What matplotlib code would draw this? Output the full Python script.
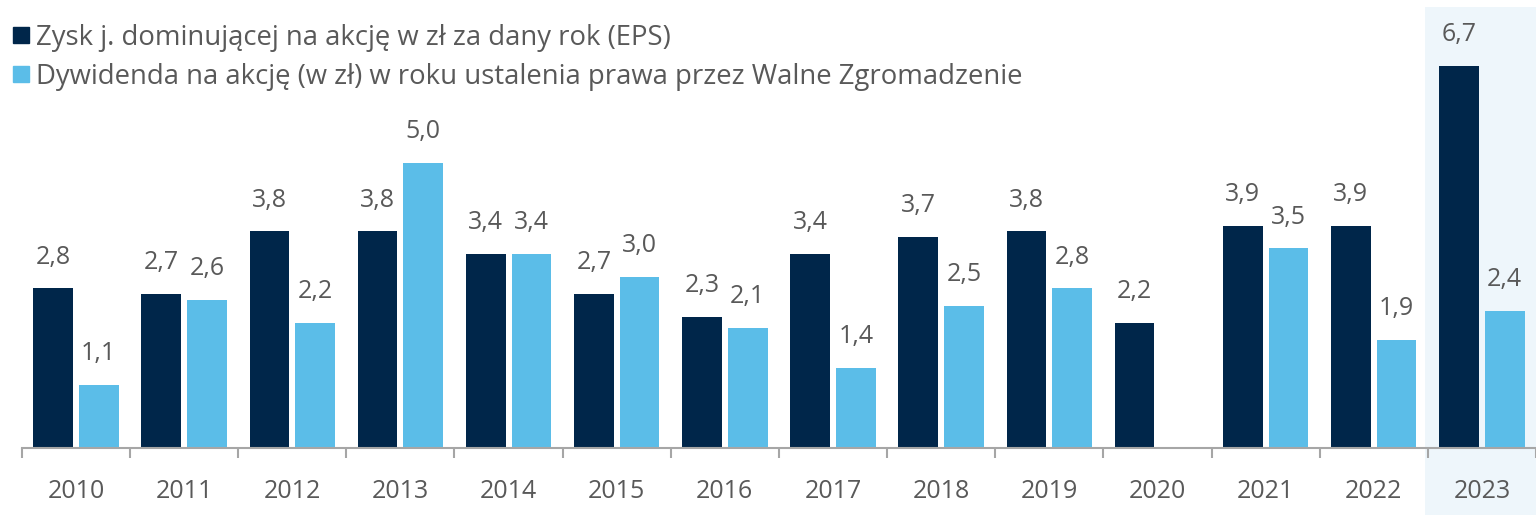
import matplotlib
matplotlib.use('Agg')
import matplotlib.pyplot as plt
import matplotlib.transforms as mtransforms
from matplotlib.patches import Rectangle
from matplotlib.lines import Line2D

plt.rcParams['font.family'] = ['Open Sans', 'DejaVu Sans']

years = ['2010', '2011', '2012', '2013', '2014', '2015', '2016',
         '2017', '2018', '2019', '2020', '2021', '2022', '2023']
eps = [2.8, 2.7, 3.8, 3.8, 3.4, 2.7, 2.3, 3.4, 3.7, 3.8, 2.2, 3.9, 3.9, 6.7]
dps = [1.1, 2.6, 2.2, 5.0, 3.4, 3.0, 2.1, 1.4, 2.5, 2.8, None, 3.5, 1.9, 2.4]

eps_label = 'Zysk j. dominującej na akcję w zł za dany rok (EPS)'
dps_label = 'Dywidenda na akcję (w zł) w roku ustalenia prawa przez Walne Zgromadzenie'

DARK = '#00264a'
LIGHT = '#5bbde8'
TEXT = '#595959'
SHADE = '#eef6fb'
AXIS = '#a6a6a6'

W, H = 1536, 515
fig = plt.figure(figsize=(W / 100, H / 100), dpi=100)
base_px = 448
ax = fig.add_axes([0, (H - base_px) / H, 1, base_px / H])
ax.set_zorder(1)
ax.set_xlim(-76.5 / 109, (W - 76.5) / 109)
ax.set_ylim(0, base_px / 57)

x = list(range(len(years)))
bw = 0.367
off = 0.211

# highlight the latest year, including the label strip below the axis
tr = mtransforms.blended_transform_factory(ax.transData, fig.transFigure)
fig.patches.append(Rectangle((12.47, 0), 2, 1 - 7 / H, transform=tr,
                             facecolor=SHADE, edgecolor='none', zorder=0))

ax.bar([i - off for i in x], eps, width=bw, color=DARK, zorder=2)
dx = [i + off for i, v in zip(x, dps) if v is not None]
dv = [v for v in dps if v is not None]
ax.bar(dx, dv, width=bw, color=LIGHT, zorder=2)

fmt = lambda v: f'{v:.1f}'.replace('.', ',')
for i, v in zip(x, eps):
    ax.text(i - off, v + 0.33, fmt(v), ha='center', va='bottom',
            fontsize=18, color=TEXT)
for i, v in zip(dx, dv):
    ax.text(i, v + 0.33, fmt(v), ha='center', va='bottom',
            fontsize=18, color=TEXT)

ax.set_facecolor('none')
for s in ['top', 'right', 'left']:
    ax.spines[s].set_visible(False)
ax.spines['bottom'].set_color(AXIS)
ax.spines['bottom'].set_linewidth(1.5)
ax.spines['bottom'].set_bounds(-0.5, 14)
ax.set_yticks([])
ax.set_xticks(x)
ax.set_xticklabels(years, fontsize=18, color=TEXT)
ax.tick_params(axis='x', length=0, pad=22)
ax.set_xticks([i - 0.5 for i in range(len(years) + 1)], minor=True)
ax.tick_params(axis='x', which='minor', length=7, width=1.5, color=AXIS,
               direction='out')

handles = [Line2D([], [], marker='s', linestyle='none', markersize=11,
                  color=DARK, label=eps_label),
           Line2D([], [], marker='s', linestyle='none', markersize=11,
                  color=LIGHT, label=dps_label)]
leg = ax.legend(handles=handles, loc='upper left',
                bbox_to_anchor=(0.0, 1 - 10 / H), bbox_transform=fig.transFigure,
                frameon=False, fontsize=19.8, handlelength=0.5,
                handletextpad=0.3, labelspacing=0.4, borderaxespad=0.3,
                borderpad=0.2)
for t in leg.get_texts():
    t.set_color(TEXT)

fig.savefig('out.png', dpi=100)
